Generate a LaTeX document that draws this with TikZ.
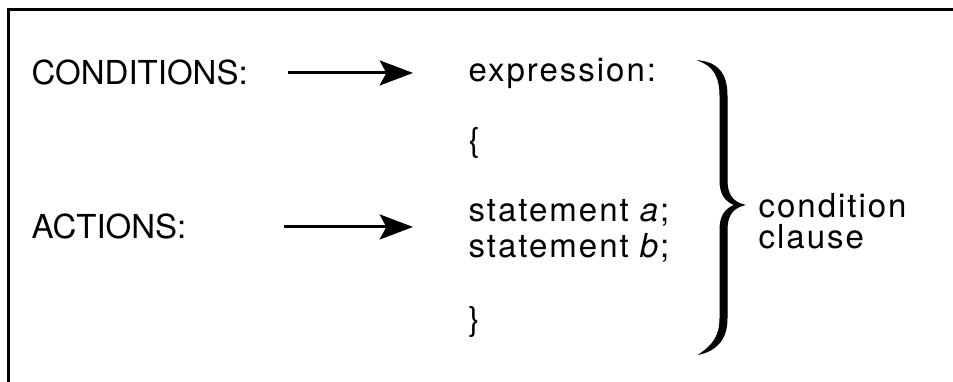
\documentclass[tikz,border=0pt]{standalone}
\usepackage{fontspec}
\setmainfont{TeX Gyre Heros}
\newfontfamily\bodyfont[LetterSpace=6]{TeX Gyre Heros}
\usetikzlibrary{arrows.meta}

\begin{document}
\begin{tikzpicture}[
    x=0.3pt, y=-0.3pt,
    font=\fontsize{9.9}{11.9}\selectfont,
    label text/.style={anchor=base west, inner sep=0pt},
    body text/.style={anchor=base west, inner sep=0pt,
                      font=\fontsize{9.9}{11.9}\selectfont\bodyfont},
    pointer/.style={-{Stealth[length=10pt,width=7.5pt,inset=2pt]},
                    line width=0.9pt},
    frame line/.style={line width=0.9pt},
    clause brace/.style={fill=black, draw=black, line width=0.3pt}
]
    \useasboundingbox (0,0) rectangle (953,382);

    % open frame: only top and left edges show
    \draw[frame line] (953,10) -- (8,10) -- (8,382);

    % left-hand labels
    \node[label text] (conds) at (31,85) {CONDITIONS:};
    \node[label text] (acts) at (31,239) {ACTIONS:};

    % clause body
    \node[body text] (expr) at (468,82) {expression:};
    \node[body text] (lbrace) at (468,152) {\{};
    \node[body text] (stmta) at (468,222) {statement \textit{a};};
    \node[body text] (stmtb) at (468,258) {statement \textit{b};};
    \node[body text] (rbrace) at (468,331) {\}};

    \draw[pointer, shorten <=12pt, shorten >=16.5pt]
        (conds.east) -- (conds.east -| expr.west);
    \draw[pointer, shorten <=29pt, shorten >=16.5pt]
        (acts.east) -- (acts.east -| stmta.west);

    % tapered brace round the whole clause
    \filldraw[clause brace]
        (700,61) .. controls (716,63) and (727,72) .. (727,96)
        -- (727,180) .. controls (727,194) and (732,202) .. (744,205)
        .. controls (732,208) and (727,216) .. (727,230)
        -- (727,318) .. controls (727,340) and (716,350) .. (700,354)
        .. controls (713,345) and (720,336) .. (720,318)
        -- (720,230) .. controls (720,216) and (725,209) .. (735,205)
        .. controls (725,201) and (720,194) .. (720,180)
        -- (720,96) .. controls (720,76) and (713,66) .. (700,61) -- cycle;

    \node[body text] (clausea) at (758,218) {condition};
    \node[body text] (clauseb) at (758,249) {clause};
\end{tikzpicture}
\end{document}
